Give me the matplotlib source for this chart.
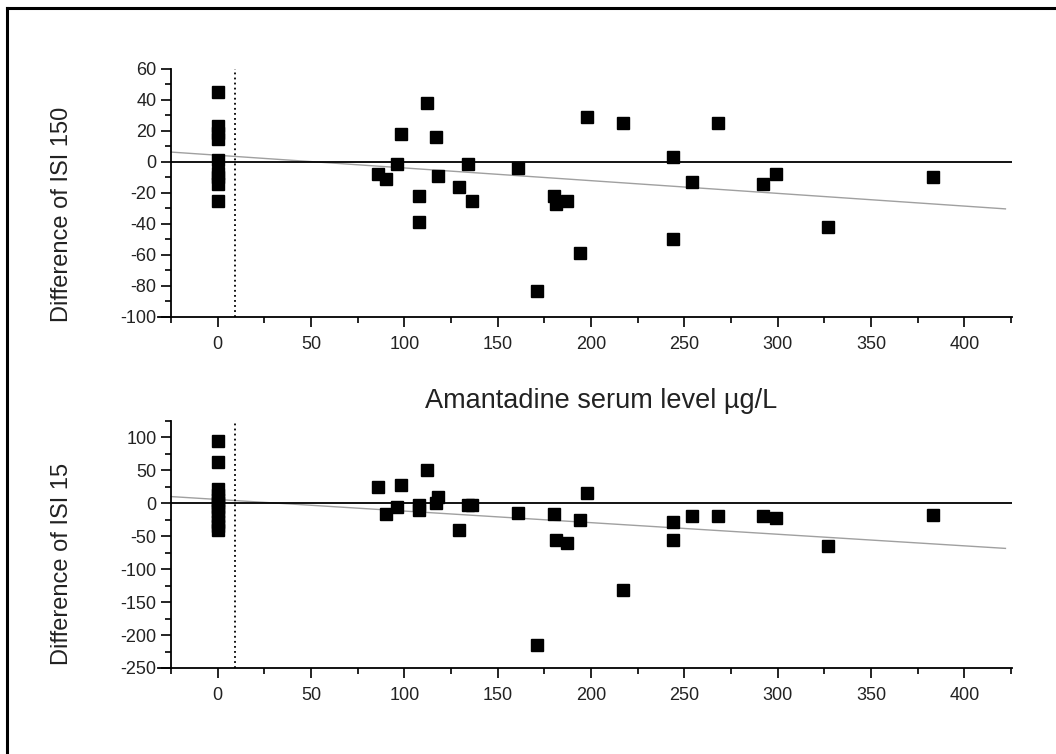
import matplotlib.pyplot as plt
from matplotlib.lines import Line2D
from matplotlib.ticker import MultipleLocator

plt.rcParams['font.family'] = ['Liberation Sans', 'DejaVu Sans']
plt.rcParams['axes.unicode_minus'] = False

# amantadine serum level (ug/L) and differences
x_150 = [0, 0, 0, 0, 0, 0, 0, 0, 0,
         112, 98, 117, 198, 217, 96, 134, 86, 90, 118, 161, 129, 108, 136,
         180, 181, 187, 108, 194, 171, 268, 244, 254, 292, 299, 383, 327, 244]
y_150 = [45, 23, 19, 15, 1, -7, -10, -14, -25,
         38, 18, 16, 29, 25, -1, -1, -8, -11, -9, -4, -16, -22, -25,
         -22, -27, -25, -39, -59, -83, 25, 3, -13, -14, -8, -10, -42, -50]

x_15 = [0, 0, 0, 0, 0, 0, 0, 0, 0, 0, 0, 0,
        112, 86, 98, 198, 90, 96, 108, 108, 117, 118, 134, 136, 129, 161,
        180, 181, 187, 194, 171, 217, 244, 244, 254, 268, 292, 299, 327, 383]
y_15 = [95, 62, 22, 12, 5, 0, -5, -12, -20, -28, -35, -41,
        51, 25, 28, 15, -16, -6, -2, -10, 1, 9, -3, -2, -41, -14,
        -16, -55, -61, -26, -215, -132, -28, -56, -20, -20, -20, -23, -65, -18]

# fitted regression lines (intercept, slope) as drawn
fit_150 = [4.35, -0.082]
fit_15 = [5.8, -0.176]
fit_x = [-25, 422]
detect_limit = 9.5

fig = plt.figure(figsize=(10.56, 7.54), dpi=100)
ax1 = fig.add_axes([0.1496, 0.5796, 0.8087, 0.3289])
ax2 = fig.add_axes([0.1496, 0.1141, 0.8087, 0.3276])

panels = [
    (ax1, x_150, y_150, fit_150, (-100, 60), 20, 10, 'Difference of ISI 150', 0.415),
    (ax2, x_15, y_15, fit_15, (-250, 125), 50, 25, 'Difference of ISI 15', 0.423),
]
for ax, xs, ys, fit, ylim, maj, mnr, lab, ly in panels:
    ax.plot(xs, ys, 's', color='black', ms=8.5, zorder=3)
    ax.plot(fit_x, [fit[0] + fit[1] * v for v in fit_x], color='#a0a0a0', lw=1.0, zorder=2)
    ax.hlines(0, -25, 425.5, color='black', lw=1.3, zorder=2)
    ax.vlines(detect_limit, ylim[0], ylim[1], color='black', lw=1.3,
              linestyles=(0, (1.0, 1.8)), zorder=2)
    ax.set_xlim(-32, 425.5)
    ax.set_ylim(*ylim)
    ax.spines['top'].set_visible(False)
    ax.spines['right'].set_visible(False)
    ax.spines['left'].set_position(('data', -25))
    ax.spines['left'].set_linewidth(1.3)
    ax.spines['bottom'].set_linewidth(1.3)
    ax.xaxis.set_major_locator(MultipleLocator(50))
    ax.xaxis.set_minor_locator(MultipleLocator(25))
    ax.yaxis.set_major_locator(MultipleLocator(maj))
    ax.yaxis.set_minor_locator(MultipleLocator(mnr))
    ax.tick_params(which='major', length=7, width=1.2, labelsize=13,
                   labelcolor='#222222', direction='out')
    ax.tick_params(which='minor', length=4, width=1.2, direction='out')
    ax.tick_params(axis='x', which='major', pad=6.5)
    ax.set_xticks([0, 50, 100, 150, 200, 250, 300, 350, 400])
    ax.set_ylabel(lab, fontsize=17, color='#222222')
    ax.yaxis.set_label_coords(-0.0995, ly)

fig.text(601 / 1056, 1 - 401 / 754, 'Amantadine serum level µg/L',
         ha='center', va='center', fontsize=19.5, color='#222222')

# outer frame
fig.add_artist(Line2D([7 / 1056, 7 / 1056], [0, 1 - 8 / 754], color='black', lw=2.2,
                      transform=fig.transFigure))
fig.add_artist(Line2D([7 / 1056, 1], [1 - 8 / 754, 1 - 8 / 754], color='black', lw=2.2,
                      transform=fig.transFigure))

fig.savefig('out.png', dpi=100)
